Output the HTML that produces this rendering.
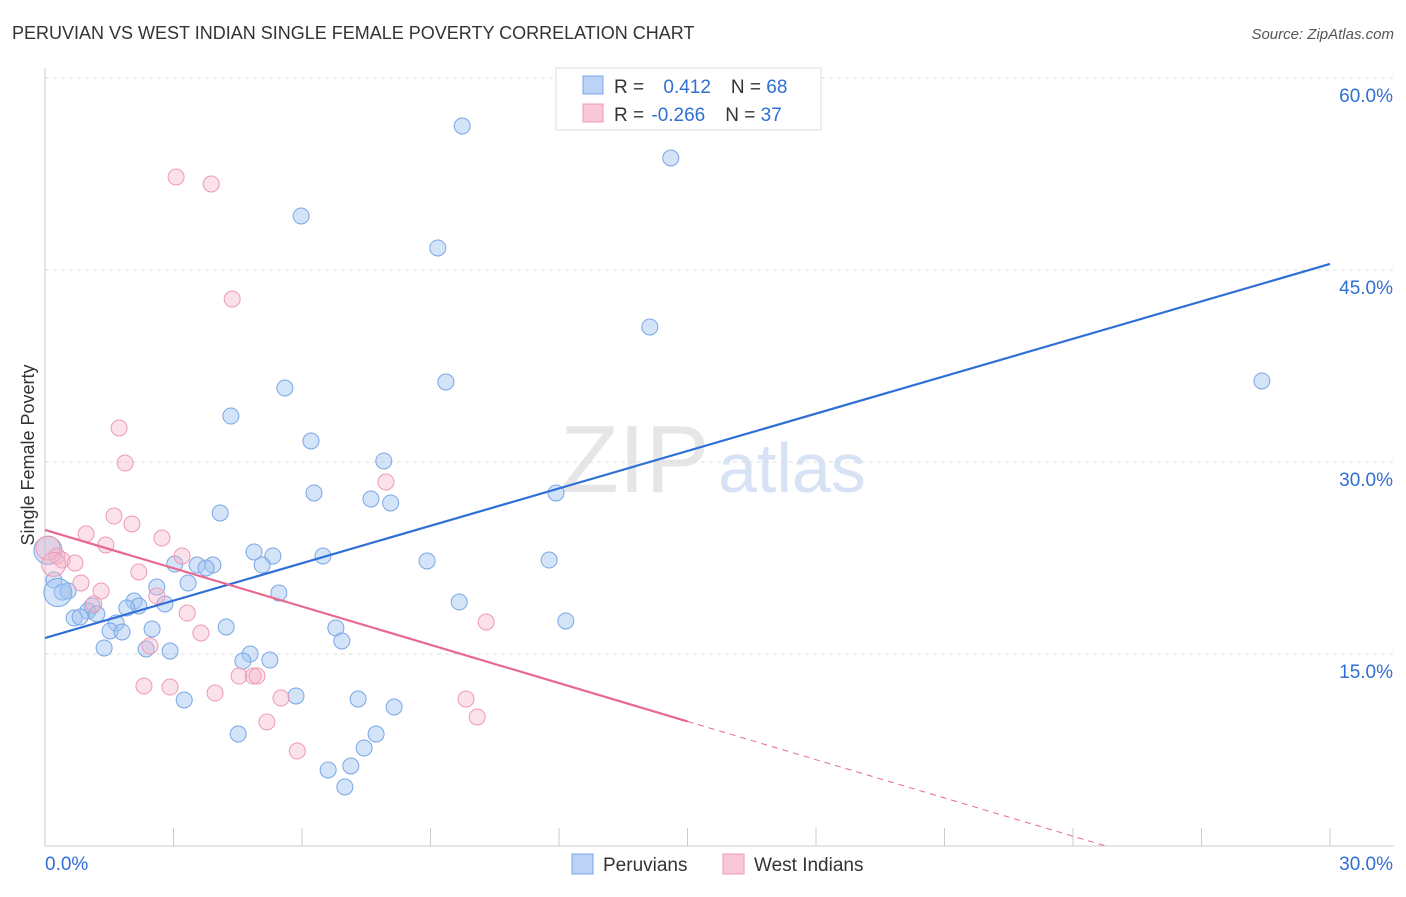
<!DOCTYPE html>
<html><head><meta charset="utf-8"><style>
body{margin:0;background:#fff;font-family:"Liberation Sans",sans-serif;}
svg text{font-family:"Liberation Sans",sans-serif;}
</style></head><body>
<svg id="chart" width="1406" height="892">
<text x="12" y="39" font-size="18" fill="#333">PERUVIAN VS WEST INDIAN SINGLE FEMALE POVERTY CORRELATION CHART</text>
<text x="1394" y="39" font-size="15" fill="#555" font-style="italic" text-anchor="end">Source: ZipAtlas.com</text>
<text x="560" y="492" font-size="96" fill="#e6e6e6" font-family="Liberation Serif">ZIP</text>
<text x="718" y="492" font-size="70" fill="#d7e3f5">atlas</text>
<g id="grid"></g><g id="axes"></g><g id="pts"></g><g id="lines"></g>
<text transform="translate(34,455) rotate(-90)" font-size="18" fill="#333" text-anchor="middle">Single Female Poverty</text>
<g>
<rect x="556" y="68" width="265" height="62" fill="#fff" stroke="#ddd"/>
<rect x="583" y="76" width="20" height="18" fill="#bcd3f5" stroke="#7aa6e6"/>
<rect x="583" y="104" width="20" height="18" fill="#f9c8d6" stroke="#ee9ab3"/>
<text x="614" y="93" font-size="19" fill="#333">R = <tspan fill="#2f6fd6" dx="14">0.412</tspan><tspan dx="20" fill="#333">N = </tspan><tspan fill="#2f6fd6">68</tspan></text>
<text x="614" y="121" font-size="19" fill="#333">R = <tspan fill="#2f6fd6" dx="2">-0.266</tspan><tspan dx="20" fill="#333">N = </tspan><tspan fill="#2f6fd6">37</tspan></text>
</g>
<g>
<rect x="572" y="854" width="21" height="20" fill="#bcd3f5" stroke="#7aa6e6"/>
<text x="603" y="871" font-size="19" fill="#333">Peruvians</text>
<rect x="723" y="854" width="21" height="20" fill="#f9c8d6" stroke="#ee9ab3"/>
<text x="754" y="871" font-size="19" fill="#333">West Indians</text>
</g>
</svg>
<script>
const xTicks=[0,3,6,9,12,15,18,21,24,27,30];
const yTicks=[15,30,45,60];
const blueX=[9.74,14.61,5.98,9.17,14.12,28.41,9.36,5.60,4.34,6.21,7.91,6.28,7.61,8.07,11.93,4.09,4.88,5.32,6.49,8.92,11.77,5.07,3.03,3.55,3.92,3.76,3.34,2.61,5.46,0.21,0.40,0.54,9.67,2.80,2.08,2.19,1.91,1.10,1.00,1.21,0.68,0.82,12.16,1.66,4.23,6.79,2.50,1.52,1.80,6.93,1.38,2.36,2.92,4.79,4.62,5.25,3.25,5.86,7.31,8.15,4.51,7.73,7.45,7.14,6.61,7.00,0.07,0.3];
const blueY=[56.25,53.75,49.22,46.72,40.55,36.33,36.25,35.78,33.59,31.64,30.08,27.58,27.11,26.80,27.58,26.02,22.97,22.66,22.66,22.27,22.34,21.95,22.03,21.95,21.95,21.72,20.55,20.23,19.77,20.78,19.84,19.92,19.06,18.91,19.14,18.75,18.59,18.75,18.36,18.13,17.81,17.89,17.58,17.42,17.11,17.03,16.95,16.80,16.72,16.02,15.47,15.39,15.23,15.0,14.45,14.53,11.41,11.72,11.48,10.86,8.75,8.75,7.66,6.25,5.94,4.61,23.1,19.8];
const pinkX=[3.06,3.88,4.37,1.73,1.87,7.96,1.61,2.03,0.96,2.73,1.42,0.07,0.28,0.40,0.70,3.20,2.19,0.84,1.31,2.61,1.14,3.32,10.3,3.64,2.45,4.53,4.86,4.95,2.31,2.92,3.97,5.51,9.83,10.09,5.18,5.89,0.2];
const pinkY=[52.27,51.72,42.73,32.66,29.92,28.44,25.78,25.16,24.38,24.06,23.52,23.28,22.66,22.34,22.11,22.66,21.41,20.55,19.92,19.53,18.91,18.20,17.5,16.64,15.63,13.28,13.28,13.28,12.5,12.42,11.95,11.56,11.48,10.08,9.69,7.42,22.0];
const blueLine=[16.25,45.47];
const pinkLine=[24.69,-0.997];
const X=v=>45+v/30*1285, Y=v=>846-v/15*192;
const NS="http://www.w3.org/2000/svg";
function mk(p,t,a){const e=document.createElementNS(NS,t);for(const k in a)e.setAttribute(k,a[k]);document.getElementById(p).appendChild(e);return e;}
yTicks.forEach(t=>{
 const l=mk('grid','line',{x1:45,x2:1394,y1:Y(t),y2:Y(t),stroke:'#ddd','stroke-dasharray':'4,4'});
 
 
 const tx=mk('grid','text',{x:1393,y:Y(t)+24,'font-size':19,fill:'#2f6fd6','text-anchor':'end'});tx.textContent=t.toFixed(1)+'%';
 
 
});
const ax=mk('axes','line',{x1:45,x2:1394,y1:846,y2:846,stroke:'#ccc'});


const ay=mk('axes','line',{x1:45,x2:45,y1:68,y2:846,stroke:'#ccc'});


xTicks.forEach(t=>{
 const l=mk('axes','line',{x1:X(t),x2:X(t),y1:828,y2:846,stroke:'#ccc'});
 
 
});
[[0,'start'],[30,'end']].forEach(([t,a])=>{
 const tx=mk('axes','text',{x:X(t)+(t?63:0),y:870,'font-size':19,fill:'#2f6fd6','text-anchor':a});tx.textContent=t.toFixed(1)+'%';
 
 
});
blueX.forEach((x,i)=>{
 const big=i>=66;
 const c=mk('pts','circle',{cx:X(x),cy:Y(blueY[i]),r:big?14:8,fill:'rgba(160,195,240,0.45)',stroke:'#7aa6e6','stroke-width':1});
 
 
});
pinkX.forEach((x,i)=>{
 const big=i>=36||i==11;
 const c=mk('pts','circle',{cx:X(x),cy:Y(pinkY[i]),r:big?12:8,fill:'rgba(245,180,200,0.4)',stroke:'#ee9ab3','stroke-width':1});
 
 
});
const bl=mk('lines','line',{x1:X(0),y1:Y(blueLine[0]),x2:X(30),y2:Y(blueLine[1]),stroke:'#2f6fd6','stroke-width':2.2});


const pe=15, pz=-pinkLine[0]/pinkLine[1];
const pl=mk('lines','line',{x1:X(0),y1:Y(pinkLine[0]),x2:X(pe),y2:Y(pinkLine[0]+pinkLine[1]*pe),stroke:'#e8698f','stroke-width':2.2});


const pd=mk('lines','line',{x1:X(pe),y1:Y(pinkLine[0]+pinkLine[1]*pe),x2:X(pz),y2:Y(0),stroke:'#e8698f','stroke-width':1,'stroke-dasharray':'6,5'});


</script>
</body></html>
